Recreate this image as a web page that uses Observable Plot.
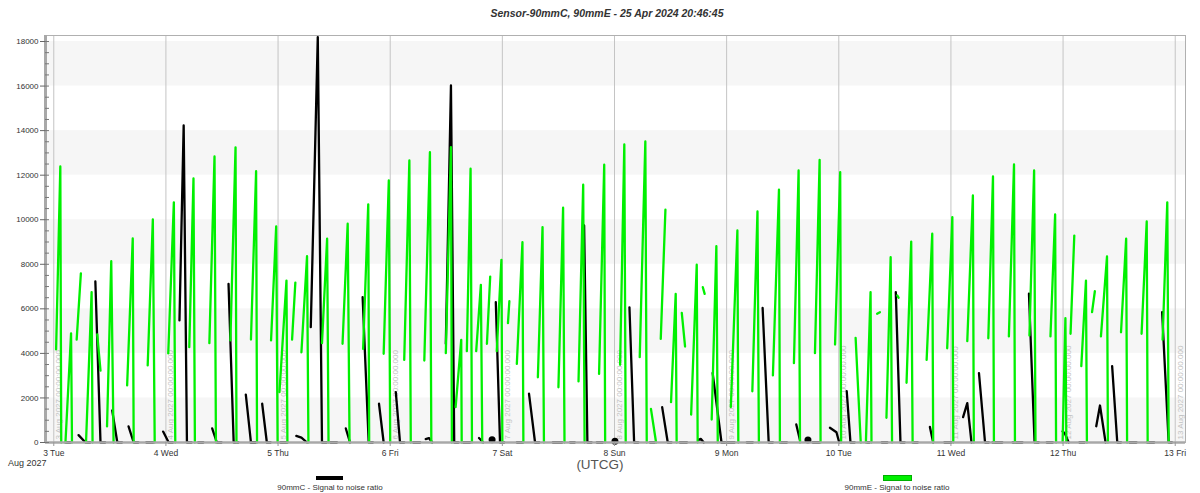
<!DOCTYPE html>
<html>
<head>
<meta charset="utf-8">
<script src="https://cdn.jsdelivr.net/npm/d3@7"></script>
<script src="https://cdn.jsdelivr.net/npm/@observablehq/plot@0.6"></script>
<style>
  html, body { margin: 0; padding: 0; background: #fff; }
  body { font-family: "Liberation Sans", Arial, sans-serif; }
  #wrap { position: relative; width: 1200px; height: 493px; overflow: hidden; }
  #title { height: 28px; line-height: 27px; text-align: center; font-size: 10.5px; font-weight: bold; font-style: italic; color: #333; padding-left: 14px; }
  .ann { position: absolute; color: #333; white-space: nowrap; }
  .sw { position: absolute; height: 4px; width: 27px; }
</style>
</head>
<body>
<div id="wrap">
  <div id="title"></div>
  <div id="chart"></div>
  <div class="ann" id="month" style="left:8px; top:458px; font-size:9px;"></div>
  <div class="ann" id="unit" style="left:0; width:1200px; text-align:center; top:457px; font-size:13.5px; color:#555;"></div>
  <div class="sw" id="sw0" style="left:316px; top:476px;"></div>
  <div class="ann" id="lg0" style="left:230px; width:200px; text-align:center; top:483px; font-size:8px;"></div>
  <div class="sw" id="sw1" style="left:884px; top:476px; outline:1px solid #00b000;"></div>
  <div class="ann" id="lg1" style="left:797px; width:200px; text-align:center; top:483px; font-size:8px;"></div>
</div>
<script>
// ---------- texts ----------
const titleText = "Sensor-90mmC, 90mmE - 25 Apr 2024 20:46:45";
const monthLabel = "Aug 2027";
const unitLabel = "(UTCG)";
const seriesNames = ["90mmC - Signal to noise ratio", "90mmE - Signal to noise ratio"];
const seriesColors = ["#000000", "#00f000"];
const dayTickLabels = ["3 Tue","4 Wed","5 Thu","6 Fri","7 Sat","8 Sun","9 Mon","10 Tue","11 Wed","12 Thu","13 Fri"];
const gridLabels = ["3 Aug 2027 00:00:00.000","4 Aug 2027 00:00:00.000","5 Aug 2027 00:00:00.000","6 Aug 2027 00:00:00.000","7 Aug 2027 00:00:00.000","8 Aug 2027 00:00:00.000","9 Aug 2027 00:00:00.000","10 Aug 2027 00:00:00.000","11 Aug 2027 00:00:00.000","12 Aug 2027 00:00:00.000","13 Aug 2027 00:00:00.000"];
const yMajorTicks = [0,2000,4000,6000,8000,10000,12000,14000,16000,18000];
const yMinorTicks = d3.range(0, 18001, 500);
const bandRanges = [[0,2000],[4000,6000],[8000,10000],[12000,14000],[16000,18000]];

// time is in hours since 3 Aug 2027 00:00 UTC
const startDate = Date.UTC(2027, 7, 3);
const xStartHour = -1.77, xEndHour = 242.2, yMax = 18270;

// ---------- 90mmE (green) segments: [hour, SNR] ----------
const greenSegments = [
 [[0.5,4180],[1.4,12390],[1.6,0]],
 [[2.5,0],[3.7,4900],[3.9,0]],
 [[4.9,4620],[5.8,7590]],
 [[6.9,0],[8.1,6750],[8.3,0]],
 [[9.3,4850],[10.0,3230]],
 [[11.4,720],[12.3,8140],[12.8,0]],
 [[15.7,2560],[16.9,9160],[17.1,0]],
 [[20.1,3460],[21.2,10010],[21.6,0]],
 [[24.5,4000],[25.7,10780],[26.0,0]],
 [[29.0,4280],[29.9,11850],[30.2,0]],
 [[33.3,4460],[34.4,12840],[34.7,0]],
 [[37.8,4580],[38.9,13250],[39.1,0]],
 [[42.2,4620],[43.3,12180],[43.5,0]],
 [[46.5,4580],[47.6,9700],[47.9,0]],
 [[48.3,2260],[49.8,7270],[50.0,0]],
 [[51.0,4620],[51.7,7180]],
 [[53.0,4050],[54.2,8360],[54.5,0]],
 [[57.4,4460],[58.5,9150],[58.8,0]],
 [[61.8,4430],[62.9,9820],[63.3,0]],
 [[66.2,4200],[67.3,10690],[67.5,0]],
 [[70.6,3980],[71.7,11760],[72.0,0]],
 [[75.0,3710],[76.1,12660],[76.4,0]],
 [[79.3,3680],[80.5,13030],[80.8,0]],
 [[83.9,4010],[85.0,13260],[85.2,0]],
 [[86.0,1590],[87.2,4610],[87.3,0]],
 [[88.4,4100],[89.2,12290],[89.5,0]],
 [[90.4,4100],[91.4,7080],[91.7,0]],
 [[92.7,4430],[93.4,7450]],
 [[94.8,4100],[95.8,8200],[96.0,0]],
 [[97.2,5360],[97.5,6340]],
 [[99.1,3530],[100.3,8990],[100.5,0]],
 [[103.6,2930],[104.6,9670],[104.9,0]],
 [[108.0,2480],[109.0,10540],[109.3,0]],
 [[112.3,2740],[113.3,11570],[113.6,0]],
 [[116.7,3080],[117.8,12470],[118.0,0]],
 [[121.2,3490],[122.1,13380],[122.4,0]],
 [[125.4,3830],[126.6,13515],[126.9,0]],
 [[127.8,1510],[128.9,0]],
 [[129.9,4650],[130.9,10450]],
 [[132.1,1810],[133.1,6670],[133.3,0]],
 [[134.4,5820],[135.1,4310]],
 [[136.4,1250],[137.6,7980],[137.8,0]],
 [[138.9,6970],[139.3,6670]],
 [[140.8,1030],[141.8,8810],[142.1,0]],
 [[144.9,1590],[146.3,9520],[146.5,0]],
 [[149.5,2300],[150.6,10370],[150.9,0]],
 [[153.9,3010],[155.2,11350],[155.4,0]],
 [[158.4,3560],[159.4,12210],[159.7,0]],
 [[162.9,4010],[163.9,12690],[164.1,0]],
 [[167.2,4400],[168.3,12140],[168.5,0]],
 [[171.6,4700],[172.7,0]],
 [[173.8,0],[174.8,6750],[175.0,0]],
 [[176.2,5780],[176.8,5850]],
 [[178.2,1110],[179.1,8320],[179.4,0]],
 [[180.5,6600],[180.8,6500]],
 [[182.5,2680],[183.5,9020],[183.8,0]],
 [[186.8,3710],[188.0,9370],[188.2,0]],
 [[191.2,4230],[192.3,10120],[192.5,0]],
 [[195.5,4550],[196.7,11090],[196.9,0]],
 [[200.0,4680],[201.0,11940],[201.2,0]],
 [[204.4,4760],[205.5,12480],[205.7,0]],
 [[208.8,4800],[209.8,12210],[210.1,0]],
 [[213.3,4760],[214.3,10240],[214.5,0]],
 [[215.9,0],[216.5,5580],[216.7,0]],
 [[217.6,4880],[218.4,9290]],
 [[219.9,3430],[220.9,7270],[221.1,0]],
 [[222.2,5850],[222.8,6790]],
 [[224.1,4760],[225.4,8350],[225.6,0]],
 [[228.4,4950],[229.5,9150],[229.7,0]],
 [[232.8,4880],[233.9,9920],[234.1,0]],
 [[237.3,4610],[238.3,10780],[238.6,0]]
];

// ---------- 90mmC (black) segments: [hour, SNR] ----------
const blackSegments = [
 [[5.3,330],[6.8,0],[7.8,0]],
 [[8.9,7230],[10.0,0],[11.0,0]],
 [[12.5,1440],[13.6,0],[14.6,0]],
 [[16.0,720],[17.1,0],[18.1,0]],
 [[23.4,490],[24.6,0],[25.5,0]],
 [[26.9,5480],[27.8,14230],[28.5,0],[29.5,0]],
 [[33.9,630],[34.9,0],[35.9,0]],
 [[37.4,7120],[38.5,0],[39.5,0]],
 [[41.1,2150],[42.2,0],[43.2,0]],
 [[44.6,1740],[45.6,0],[46.4,0]],
 [[51.9,300],[53.0,220],[54.2,0]],
 [[55.0,5180],[56.5,18200],[57.4,0],[58.4,0]],
 [[62.5,630],[63.4,0]],
 [[66.1,6520],[67.4,0],[68.3,0]],
 [[69.6,1740],[70.6,0]],
 [[73.2,2260],[74.1,0],[75.0,0]],
 [[79.6,150],[80.3,200],[81.0,0]],
 [[83.9,4430],[85.0,16030],[85.7,0],[86.6,0]],
 [[91.0,200],[91.9,0]],
 [[94.6,6300],[95.5,0],[96.4,0]],
 [[101.7,2190],[103.0,0],[103.9,0]],
 [[113.5,9740],[114.2,0],[115.1,0]],
 [[123.2,6070],[124.2,0],[125.1,0]],
 [[130.2,1590],[131.4,0],[132.2,0]],
 [[137.9,120],[138.5,160],[139.1,0]],
 [[141.0,3130],[142.9,0],[143.7,0]],
 [[151.7,6040],[153.0,0],[153.9,0]],
 [[158.9,810],[159.7,100]],
 [[166.1,660],[167.5,460],[168.1,0]],
 [[169.7,2300],[170.5,0],[171.4,0]],
 [[180.2,6750],[181.2,0],[182.1,0]],
 [[187.5,700],[188.2,0]],
 [[194.6,1140],[195.5,1770],[196.4,0]],
 [[198.0,3110],[199.3,0],[200.1,0]],
 [[208.7,6680],[209.9,0],[210.8,0]],
 [[215.9,500],[216.4,400],[217.2,0]],
 [[223.1,730],[223.9,1660],[225.1,0]],
 [[226.5,3430],[227.6,0],[228.4,0]],
 [[237.2,5850],[238.6,0],[239.3,0]]
];
// short black runs lying on zero: [start hour, end hour]
const blackZeroRuns = [
 [2.5,3.6],[19.8,21.3],[30.9,32.0],[42.1,43.2],[48.5,50.0],[59.2,60.6],[76.9,78.4],[87.6,89.1],
 [99.1,100.4],[106.8,108.8],[110.5,111.5],[116.2,117.5],[127.6,128.6],[134.0,135.5],[144.2,145.7],
 [148.3,149.6],[155.4,156.9],[162.4,163.9],[174.0,174.6],[177.2,178.4],[183.8,184.9],[190.6,192.1],
 [200.9,203.0],[205.2,207.3],[212.5,213.8],[219.5,220.6],[230.2,231.7],[234.0,235.5]
];
// little black blobs on the zero line: [hour, SNR]
const blackBlobs = [[93.8,120],[161.4,110],[120.1,60]];

// ---------- build ----------
const H = 3600e3;
const toDate = h => new Date(startDate + h * H);
const dayTicks = dayTickLabels.map((_, i) => new Date(startDate + i * 24 * H));
const x0 = toDate(xStartHour), x1 = toDate(xEndHour);

const greenRows = greenSegments.flatMap((s, k) => s.map(([h, v]) => ({t: toDate(h), v, k})));
const blackRows = [
  ...blackSegments.flatMap((s, k) => s.map(([h, v]) => ({t: toDate(h), v, k}))),
  ...blackZeroRuns.flatMap(([a, b], j) => [{t: toDate(a), v: 0, k: 1000 + j}, {t: toDate(b), v: 0, k: 1000 + j}])
];
const blobRows = blackBlobs.map(([h, v]) => ({t: toDate(h), v}));

document.getElementById("title").textContent = titleText;
document.getElementById("month").textContent = monthLabel;
document.getElementById("unit").textContent = unitLabel;
document.getElementById("lg0").textContent = seriesNames[0];
document.getElementById("lg1").textContent = seriesNames[1];
document.getElementById("sw0").style.background = seriesColors[0];
document.getElementById("sw1").style.background = seriesColors[1];

const chart = Plot.plot({
  width: 1200,
  height: 465,
  marginLeft: 45,
  marginRight: 15,
  marginTop: 7,
  marginBottom: 51,
  style: {fontFamily: "'Liberation Sans', Arial, sans-serif", color: "#333", background: "#fff"},
  x: {type: "utc", domain: [x0, x1]},
  y: {domain: [0, yMax]},
  marks: [
    Plot.rect(bandRanges, {x1: () => x0, x2: () => x1, y1: d => d[0], y2: d => d[1], fill: "#f6f6f6"}),
    Plot.gridX(dayTicks, {stroke: "#c4c4c4", strokeOpacity: 1}),
    Plot.text(dayTicks, {x: d => d, y: () => 0, text: (d, i) => gridLabels[i], rotate: -90, textAnchor: "start",
      fontSize: 8, fill: "#c2c2c2", dx: 5, dy: -3}),
    Plot.line(blackRows, {x: "t", y: "v", z: "k", stroke: seriesColors[0], strokeWidth: 2.3, curve: "linear"}),
    Plot.dot(blobRows, {x: "t", y: "v", r: 3.5, fill: seriesColors[0], stroke: null}),
    Plot.line(greenRows, {x: "t", y: "v", z: "k", stroke: seriesColors[1], strokeWidth: 2.3, curve: "linear"}),
    Plot.frame({stroke: "#b0b0b0", strokeWidth: 1}),
    Plot.ruleX([x0], {stroke: "#a8a8a8", strokeWidth: 3}),
    Plot.ruleY([0], {stroke: "#a8a8a8", strokeWidth: 2.5}),
    Plot.axisY(yMajorTicks, {tickSize: 5, tickPadding: 2, fontSize: 8, label: null, stroke: "#666", tickFormat: d => String(d)}),
    Plot.axisY(yMinorTicks, {tickSize: -4, tickPadding: 0, label: null, stroke: "#777", tickFormat: () => ""}),
    Plot.axisX(dayTicks, {tickSize: 4, tickPadding: 3, fontSize: 8.5, label: null, stroke: "#999",
      tickFormat: d => dayTickLabels[Math.round((d - startDate) / (24 * H))]})
  ]
});
document.getElementById("chart").appendChild(chart);
</script>
</body>
</html>
